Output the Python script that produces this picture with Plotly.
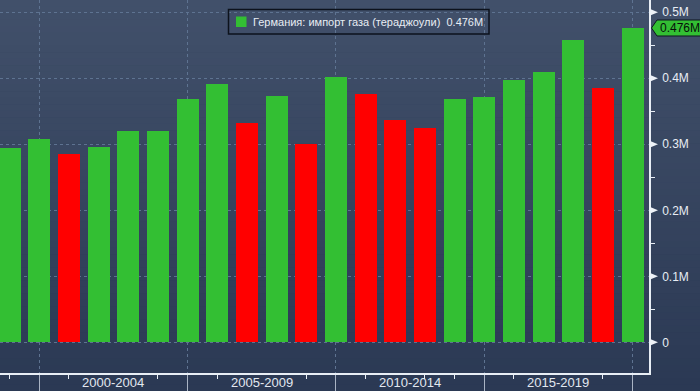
import plotly.graph_objects as go

# ---- data ----
years = list(range(1998, 2020))
imports_tj = [294400, 308000, 285800, 295900, 320200, 320500, 368600, 391400,
              332700, 373600, 300500, 402400, 376700, 336800, 324700, 368600,
              371700, 397900, 409500, 458000, 385300, 476200]
period_labels = ["2000-2004", "2005-2009", "2010-2014", "2015-2019"]
period_centers = [2001.5, 2006.5, 2011.5, 2016.5]
y_tick_vals = [0, 100000, 200000, 300000, 400000, 500000]
y_tick_text = ["0", "0.1M", "0.2M", "0.3M", "0.4M", "0.5M"]
series_name = "Германия: импорт газа (тераджоули)"

GREEN = "#33bf33"
RED = "#ff0000"
colors = [GREEN] + [GREEN if v >= p else RED for p, v in zip(imports_tj[:-1], imports_tj[1:])]

W, H = 700, 391
L, R, T, B = 0, 51, 0, 18
PW, PH = W - L - R, H - T - B
X0, X1 = 1997.675, 2019.556
Y0, Y1 = -46500, 518600

xp = lambda px: px / PW           # pixel x -> paper x
yp = lambda py: (PH - py) / PH    # pixel y -> paper y
ypx = lambda px_h: px_h / PH * (Y1 - Y0)  # pixel height -> data units

fig = go.Figure()
fig.add_trace(go.Bar(x=years, y=imports_tj, marker=dict(color=colors, line=dict(width=0)),
                     width=0.742, showlegend=False, hoverinfo="x+y"))

# gradient background
shapes = []
N = 60
top_c = (65, 80, 106)
bot_c = (43, 57, 84)
for i in range(N):
    t = i / (N - 1)
    c = tuple(round(top_c[k] + (bot_c[k] - top_c[k]) * t) for k in range(3))
    py0 = H * i / N
    py1 = H * (i + 1) / N + 0.5
    shapes.append(dict(type="rect", xref="paper", yref="paper", layer="below",
                       x0=-0.01, x1=W / PW + 0.01, y0=yp(py1), y1=yp(py0),
                       fillcolor="rgb(%d,%d,%d)" % c, line=dict(width=0)))

# right-pointing tick triangles on the value axis
for v in y_tick_vals:
    shapes.append(dict(type="path", xref="paper", yref="y", layer="above",
                       path="M %f,%f L %f,%f L %f,%f Z" % (xp(649.5), v + ypx(3.5), xp(658), v,
                                                           xp(649.5), v - ypx(3.5)),
                       fillcolor="#eef2f7", line=dict(width=0)))

# last value callout (pointed box)
last = imports_tj[-1]
hh = ypx(8)
path = "M %f,%f L %f,%f L %f,%f L %f,%f L %f,%f Z" % (
    xp(651.5), last, xp(657), last + hh, xp(705), last + hh, xp(705), last - hh, xp(657), last - hh)
shapes.append(dict(type="path", xref="paper", yref="y", path=path, fillcolor=GREEN,
                   line=dict(color="#0e1622", width=1), layer="above"))

# legend box and swatch
shapes.append(dict(type="rect", xref="paper", yref="paper", layer="above",
                   x0=xp(228.5), x1=xp(489), y0=yp(34), y1=yp(9.5),
                   line=dict(color="#0c121c", width=1.5), fillcolor="rgba(0,0,0,0)"))
shapes.append(dict(type="rect", xref="paper", yref="paper", layer="above",
                   x0=xp(236), x1=xp(246.5), y0=yp(27), y1=yp(16.5),
                   line=dict(width=0), fillcolor=GREEN))

annotations = []
annotations.append(dict(x=xp(657.5), y=last, xref="paper", yref="y", xanchor="left", yanchor="middle",
                        text="%.3fM" % (last / 1e6), showarrow=False,
                        font=dict(family="Liberation Sans", size=12, color="#06100a")))

for lab, cx in zip(period_labels, period_centers):
    annotations.append(dict(x=cx, y=yp(382.7), xref="x", yref="paper", text=lab,
                            showarrow=False, xanchor="center", yanchor="middle",
                            font=dict(family="Liberation Sans", size=13, color="#e2e8f0")))

annotations.append(dict(x=xp(251), y=yp(21.8), xref="paper", yref="paper",
                        xanchor="left", yanchor="middle", showarrow=False,
                        text='%s  %.3fM' % (series_name, last / 1e6),
                        font=dict(family="Liberation Sans", size=11, color="#e8edf4")))

fig.update_layout(
    width=W, height=H, margin=dict(l=L, r=R, t=T, b=B, pad=0),
    paper_bgcolor="rgb(43,57,84)", plot_bgcolor="rgba(0,0,0,0)",
    shapes=shapes, annotations=annotations, bargap=0,
    xaxis=dict(range=[X0, X1], tickvals=[1999, 2004, 2009, 2014, 2019], showticklabels=False,
               ticks="outside", ticklen=18, tickcolor="#aab4c4", tickwidth=1,
               showgrid=True, gridcolor="#5e7391", griddash="dot", gridwidth=1,
               showline=True, linecolor="#e8eef5", linewidth=1.5, zeroline=False,
               minor=dict(tickvals=[1998, 2000, 2003, 2005, 2008, 2010, 2012, 2013, 2015, 2018],
                          ticks="outside", ticklen=4, tickcolor="#e8eef5", showgrid=False)),
    yaxis=dict(range=[Y0, Y1], side="right", tickvals=y_tick_vals, ticktext=y_tick_text,
               ticks="outside", ticklen=9, tickcolor="rgba(0,0,0,0)",
               tickfont=dict(family="Liberation Sans", size=12, color="#e8edf4"),
               showgrid=True, gridcolor="#5e7391", griddash="dot", gridwidth=1,
               showline=True, linecolor="#e8eef5", linewidth=1.5, zeroline=False,
               minor=dict(tickvals=[50000, 150000, 250000, 350000, 450000],
                          ticks="outside", ticklen=4, tickcolor="#e8eef5", showgrid=False)),
)

fig.write_html("out.html", config={"displayModeBar": False},
               post_script="document.body.style.margin='0';document.body.style.overflow='hidden';")
